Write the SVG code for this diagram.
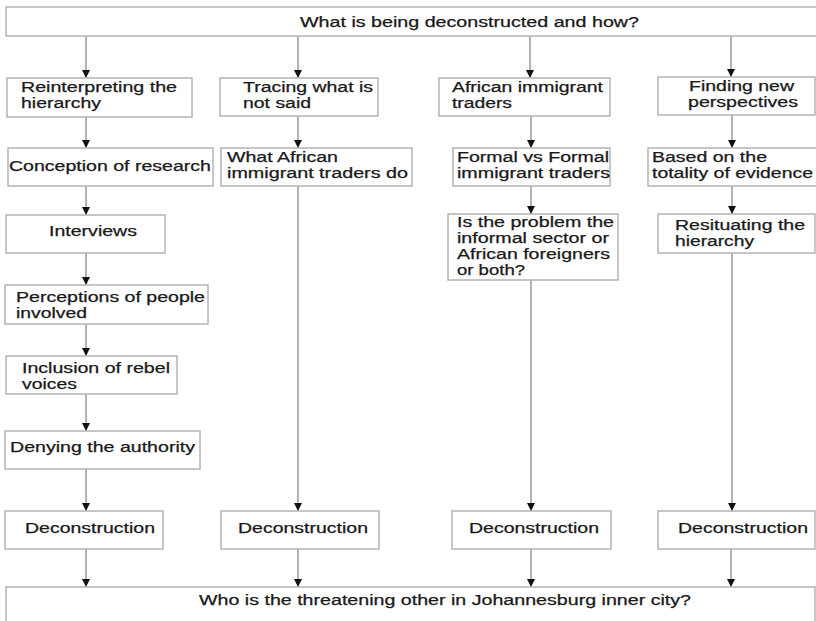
<svg xmlns="http://www.w3.org/2000/svg" width="816" height="621" viewBox="0 0 816 621">
<defs>
<marker id="ah" markerUnits="userSpaceOnUse" markerWidth="10" markerHeight="8" refX="9" refY="4" orient="auto"><path d="M1,0 L9,4 L1,8 Z" fill="#111"/></marker>
<style>
rect{fill:#fff;stroke:#b4b4b4;stroke-width:1.5}
text{font-family:"Liberation Sans",Arial,sans-serif;font-size:14px;fill:#1a1a1a;stroke:#1a1a1a;stroke-width:0.25}
.c line{stroke:#9a9a9a;stroke-width:1.5;marker-end:url(#ah)}
</style>
</defs>
<rect x="0" y="0" width="816" height="621" style="fill:#fff;stroke:none"/>
<g class="c" id="connectors">
<line x1="86" y1="36" x2="86" y2="78"/>
<line x1="86" y1="117" x2="86" y2="148"/>
<line x1="86" y1="186" x2="86" y2="215"/>
<line x1="86" y1="253" x2="86" y2="285"/>
<line x1="86" y1="324" x2="86" y2="356"/>
<line x1="86" y1="394" x2="86" y2="431"/>
<line x1="86" y1="469" x2="86" y2="511"/>
<line x1="86" y1="549" x2="86" y2="587"/>
<line x1="298" y1="36" x2="298" y2="78"/>
<line x1="298" y1="116" x2="298" y2="148"/>
<line x1="298" y1="186" x2="298" y2="511"/>
<line x1="298" y1="549" x2="298" y2="587"/>
<line x1="530" y1="36" x2="530" y2="78"/>
<line x1="531" y1="116" x2="531" y2="148"/>
<line x1="531" y1="186" x2="531" y2="214"/>
<line x1="531" y1="280" x2="531" y2="511"/>
<line x1="531" y1="549" x2="531" y2="587"/>
<line x1="731" y1="36" x2="731" y2="77"/>
<line x1="732" y1="115" x2="732" y2="148"/>
<line x1="732" y1="186" x2="732" y2="214"/>
<line x1="732" y1="253" x2="732" y2="511"/>
<line x1="731" y1="549" x2="731" y2="587"/>
</g>
<g id="top"><rect x="6" y="7" width="816" height="29"/><text x="300" y="27" textLength="339" lengthAdjust="spacingAndGlyphs">What is being deconstructed and how?</text></g>
<g id="c1n1"><rect x="7" y="78" width="185" height="39"/><text x="21" y="92" textLength="156" lengthAdjust="spacingAndGlyphs">Reinterpreting the</text><text x="21" y="108" textLength="80" lengthAdjust="spacingAndGlyphs">hierarchy</text></g>
<g id="c1n2"><rect x="8" y="148" width="205" height="38"/><text x="9" y="171" textLength="202" lengthAdjust="spacingAndGlyphs">Conception of research</text></g>
<g id="c1n3"><rect x="6" y="215" width="159" height="38"/><text x="49" y="236" textLength="88" lengthAdjust="spacingAndGlyphs">Interviews</text></g>
<g id="c1n4"><rect x="5" y="285" width="203" height="39"/><text x="16" y="302" textLength="189" lengthAdjust="spacingAndGlyphs">Perceptions of people</text><text x="16" y="318" textLength="71" lengthAdjust="spacingAndGlyphs">involved</text></g>
<g id="c1n5"><rect x="6" y="356" width="171" height="38"/><text x="22" y="373" textLength="148" lengthAdjust="spacingAndGlyphs">Inclusion of rebel</text><text x="22" y="389" textLength="55" lengthAdjust="spacingAndGlyphs">voices</text></g>
<g id="c1n6"><rect x="5" y="431" width="195" height="38"/><text x="10" y="452" textLength="185" lengthAdjust="spacingAndGlyphs">Denying the authority</text></g>
<g id="c1n7"><rect x="5" y="511" width="158" height="38"/><text x="25" y="533" textLength="130" lengthAdjust="spacingAndGlyphs">Deconstruction</text></g>
<g id="c2n1"><rect x="220" y="78" width="158" height="38"/><text x="243" y="92" textLength="130" lengthAdjust="spacingAndGlyphs">Tracing what is</text><text x="243" y="108" textLength="68" lengthAdjust="spacingAndGlyphs">not said</text></g>
<g id="c2n2"><rect x="221" y="148" width="191" height="38"/><text x="227" y="162" textLength="111" lengthAdjust="spacingAndGlyphs">What African</text><text x="227" y="178" textLength="181" lengthAdjust="spacingAndGlyphs">immigrant traders do</text></g>
<g id="c2n3"><rect x="221" y="511" width="158" height="38"/><text x="238" y="533" textLength="130" lengthAdjust="spacingAndGlyphs">Deconstruction</text></g>
<g id="c3n1"><rect x="439" y="78" width="171" height="38"/><text x="452" y="92" textLength="151" lengthAdjust="spacingAndGlyphs">African immigrant</text><text x="452" y="108" textLength="60" lengthAdjust="spacingAndGlyphs">traders</text></g>
<g id="c3n2"><rect x="453" y="148" width="157" height="38"/><text x="457" y="162" textLength="152" lengthAdjust="spacingAndGlyphs">Formal vs Formal</text><text x="457" y="178" textLength="153" lengthAdjust="spacingAndGlyphs">immigrant traders</text></g>
<g id="c3n3"><rect x="448" y="214" width="170" height="66"/><text x="457" y="227" textLength="157" lengthAdjust="spacingAndGlyphs">Is the problem the</text><text x="457" y="243" textLength="152" lengthAdjust="spacingAndGlyphs">informal sector or</text><text x="457" y="259" textLength="153" lengthAdjust="spacingAndGlyphs">African foreigners</text><text x="457" y="275" textLength="68" lengthAdjust="spacingAndGlyphs">or both?</text></g>
<g id="c3n4"><rect x="452" y="511" width="159" height="38"/><text x="469" y="533" textLength="130" lengthAdjust="spacingAndGlyphs">Deconstruction</text></g>
<g id="c4n1"><rect x="658" y="77" width="157" height="38"/><text x="689" y="91" textLength="105" lengthAdjust="spacingAndGlyphs">Finding new</text><text x="688" y="107" textLength="110" lengthAdjust="spacingAndGlyphs">perspectives</text></g>
<g id="c4n2"><rect x="648" y="148" width="172" height="38"/><text x="652" y="162" textLength="115" lengthAdjust="spacingAndGlyphs">Based on the</text><text x="652" y="178" textLength="161" lengthAdjust="spacingAndGlyphs">totality of evidence</text></g>
<g id="c4n3"><rect x="658" y="214" width="157" height="39"/><text x="675" y="230" textLength="130" lengthAdjust="spacingAndGlyphs">Resituating the</text><text x="675" y="246" textLength="79" lengthAdjust="spacingAndGlyphs">hierarchy</text></g>
<g id="c4n4"><rect x="658" y="511" width="157" height="38"/><text x="678" y="533" textLength="130" lengthAdjust="spacingAndGlyphs">Deconstruction</text></g>
<g id="bottom"><rect x="6" y="587" width="809" height="40"/><text x="199" y="605" textLength="492" lengthAdjust="spacingAndGlyphs">Who is the threatening other in Johannesburg inner city?</text></g>
</svg>
